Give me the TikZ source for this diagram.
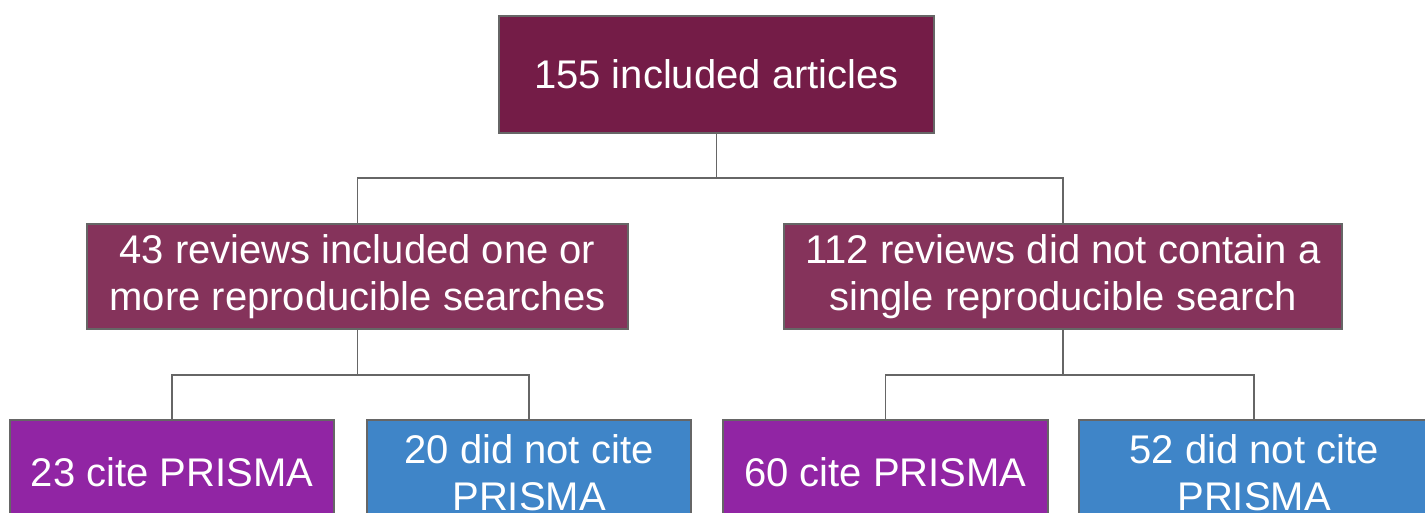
\documentclass[tikz,border=0pt]{standalone}
\usepackage{fontspec}
\setmainfont{Liberation Sans}
\definecolor{topc}{HTML}{741C47}
\definecolor{midc}{HTML}{85335B}
\definecolor{purc}{HTML}{9125A4}
\definecolor{bluc}{HTML}{3F85C8}
\definecolor{edgec}{HTML}{666666}
\begin{document}
\begin{tikzpicture}[x=1pt,y=-1pt,
  box/.style={draw=edgec,line width=1.5pt,text=white,inner sep=0pt,align=center,minimum height=105pt,font=\fontsize{40}{47}\selectfont},
  link/.style={draw=edgec,line width=1.5pt}]
\useasboundingbox (0,0) rectangle (1425,513);
\node[box,fill=topc,minimum width=435pt,minimum height=117pt] (top) at (716.5,74.5) {155 included articles};
\node[box,fill=midc,minimum width=541pt] (m1) at (357.5,276.5) {43 reviews included one or\\more reproducible searches};
\node[box,fill=midc,minimum width=558pt] (m2) at (1063,276.5) {112 reviews did not contain a\\single reproducible search};
\node[box,fill=purc,minimum width=324pt] (b1) at (172,472.5) {23 cite PRISMA};
\node[box,fill=bluc,minimum width=324pt] (b2) at (529,472.5) {20 did not cite\\PRISMA};
\node[box,fill=purc,minimum width=325pt] (b3) at (885.5,472.5) {60 cite PRISMA};
\node[box,fill=bluc,minimum width=350pt] (b4) at (1254,472.5) {52 did not cite\\PRISMA};
\coordinate (j0) at (716.5,178);
\coordinate (j1) at (357.5,375);
\coordinate (j2) at (1063,375);
\draw[link] (top.south) -- (j0);
\draw[link] (j0) -| (m1.north);
\draw[link] (j0) -| (m2.north);
\draw[link] (m1.south) -- (j1);
\draw[link] (j1) -| (b1.north);
\draw[link] (j1) -| (b2.north);
\draw[link] (m2.south) -- (j2);
\draw[link] (j2) -| (b3.north);
\draw[link] (j2) -| (b4.north);
\end{tikzpicture}
\end{document}
